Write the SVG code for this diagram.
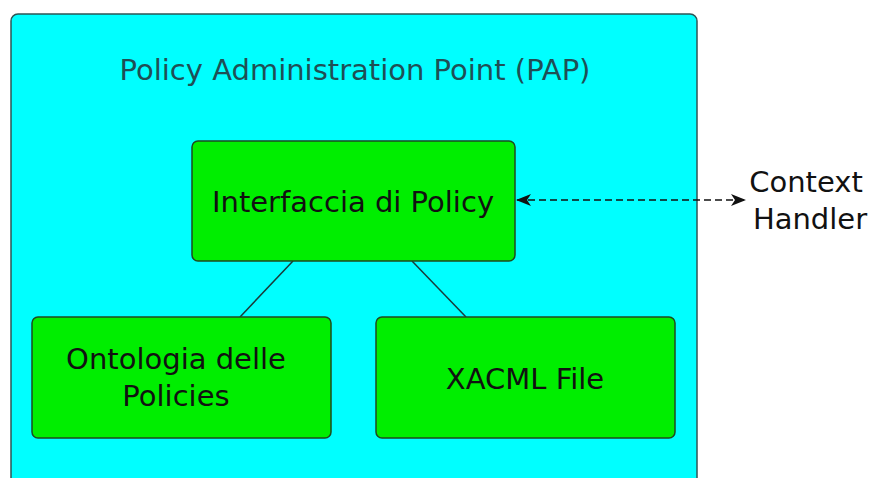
<svg xmlns="http://www.w3.org/2000/svg" width="872" height="478" viewBox="0 0 872 478">
  <style>
    .container { fill: #00ffff; stroke: #2e5555; stroke-width: 1.5; }
    .node rect { fill: #00ee00; stroke: #1f4a1f; stroke-width: 1.5; }
    .label { font-family: "DejaVu Sans", "Liberation Sans", sans-serif; font-size: 29px; fill: #111; text-anchor: middle; }
    .title { font-family: "DejaVu Sans", "Liberation Sans", sans-serif; font-size: 29px; fill: #1f4f55; text-anchor: middle; }
    .link { stroke: #1a3a3a; stroke-width: 1.5; fill: none; }
    .dash { stroke: #111; stroke-width: 1.3; stroke-dasharray: 7 4; fill: none; }
  </style>
  <defs>
    <marker id="arrow" viewBox="0 0 15 12" refX="14" refY="6" markerWidth="15" markerHeight="12" markerUnits="userSpaceOnUse" orient="auto-start-reverse">
      <path d="M0,0 L15,6 L0,12 L4,6 Z" fill="#111"/>
    </marker>
  </defs>
  <rect width="872" height="478" fill="#ffffff"/>

  <!-- Policy Administration Point container -->
  <g id="pap">
    <rect class="container" x="11" y="14" width="686" height="480" rx="7"/>
    <text class="title" x="355" y="80">Policy Administration Point (PAP)</text>
  </g>

  <!-- connectors -->
  <g id="connectors">
    <line class="link" x1="293" y1="261" x2="240" y2="317"/>
    <line class="link" x1="412" y1="261" x2="466" y2="317"/>
    <line class="dash" x1="517" y1="200" x2="745" y2="200" marker-start="url(#arrow)" marker-end="url(#arrow)"/>
  </g>

  <g id="interfaccia" class="node">
    <rect x="192" y="141" width="323" height="120" rx="6"/>
    <text class="label" x="353" y="212">Interfaccia di Policy</text>
  </g>

  <g id="ontologia" class="node">
    <rect x="32" y="317" width="299" height="121" rx="6"/>
    <text class="label" x="176" y="369">Ontologia delle</text>
    <text class="label" x="176" y="406">Policies</text>
  </g>

  <g id="xacml" class="node">
    <rect x="376" y="317" width="299" height="121" rx="6"/>
    <text class="label" x="525" y="389">XACML File</text>
  </g>

  <g id="context-handler">
    <text class="label" x="806" y="192">Context</text>
    <text class="label" x="810" y="229">Handler</text>
  </g>
</svg>
